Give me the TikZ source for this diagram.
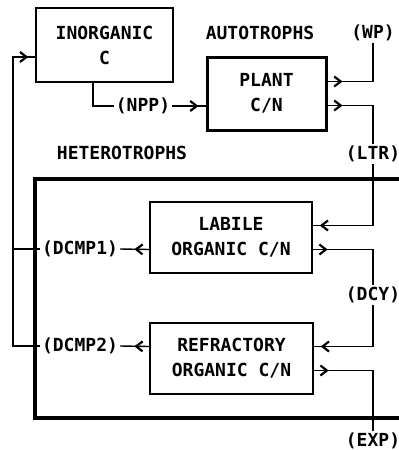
\documentclass[tikz,border=0pt]{standalone}
\usepackage{fontspec}
\setmonofont{DejaVu Sans Mono}
\usetikzlibrary{calc,arrows.meta,decorations.markings}

\tikzset{
  chev/.tip={Straight Barb[length=6.5pt,width=10pt,line width=2.2pt]},
  pool/.style={draw, line width=1.4pt, align=center, inner sep=0pt},
  lbl/.style={inner sep=2pt},
  flow/.style={line width=1.4pt},
  outflow/.style={flow, postaction={decorate},
    decoration={markings, mark=at position 15pt with {\arrow{chev}}}},
  inflow/.style={flow, postaction={decorate},
    decoration={markings, mark=at position -7pt with {\arrow{chev}}}},
}

\begin{document}
\begin{tikzpicture}[x=1pt, y=-1pt,
    every node/.style={font=\ttfamily\bfseries\fontsize{18}{25}\selectfont}]
  \useasboundingbox (0,0) rectangle (399,450);

  % heterotroph compartment, runs off the right edge
  \draw[line width=4pt] (410,179) -- (35,179) -- (35,418) -- (410,418);

  % pools
  \node[pool, minimum width=137pt, minimum height=74pt] (inorg) at (104.5,45) {INORGANIC\\C};
  \node[pool, line width=3pt, minimum width=119pt, minimum height=73pt] (plant) at (266.5,93.5) {PLANT\\C/N};
  \node[pool, minimum width=162pt, minimum height=71pt] (labile) at (231,237.5) {LABILE\\ORGANIC C/N};
  \node[pool, minimum width=163pt, minimum height=71pt] (refr) at (231.5,358.5) {REFRACTORY\\ORGANIC C/N};

  % headings and fluxes
  \node[lbl] (auto)   at (260,33)  {AUTOTROPHS};
  \node[lbl] (hetero) at (122,153) {HETEROTROPHS};
  \node[lbl] (wp)     at (373,33)  {(WP)};
  \node[lbl] (ltr)    at (373,154) {(LTR)};
  \node[lbl] (dcy)    at (373,295) {(DCY)};
  \node[lbl] (exp)    at (373,441) {(EXP)};
  \node[lbl] (npp)    at (143,106) {(NPP)};
  \node[lbl] (dcmp1)  at (80,249)  {(DCMP1)};
  \node[lbl] (dcmp2)  at (80,346)  {(DCMP2)};

  \coordinate (ret) at (13,57);

  \draw[flow] ($(inorg.south)+(-11.5,0)$) |- (npp.west);
  \draw[inflow] (npp.east) -- ($(plant.west)+(0,12.5)$);
  \draw[outflow] ($(plant.east)+(0,-12)$) -| (wp.south);
  \draw[outflow] ($(plant.east)+(0,12)$) -| (ltr.north);
  \draw[inflow] (ltr.south) |- ($(labile.east)+(0,-12)$);
  \draw[outflow] ($(labile.east)+(0,12)$) -| (dcy.north);
  \draw[inflow] (dcy.south) |- ($(refr.east)+(0,-12)$);
  \draw[outflow] ($(refr.east)+(0,12)$) -| (exp.north);
  \draw[outflow] ($(labile.west)+(0,12)$) -- (dcmp1.east);
  \draw[outflow] ($(refr.west)+(0,-12)$) -- (dcmp2.east);
  \draw[flow] (dcmp1.west) -- (dcmp1.west -| ret);
  \draw[inflow] (dcmp2.west) -| (ret) -- ($(inorg.west)+(0,12)$);
\end{tikzpicture}
\end{document}
